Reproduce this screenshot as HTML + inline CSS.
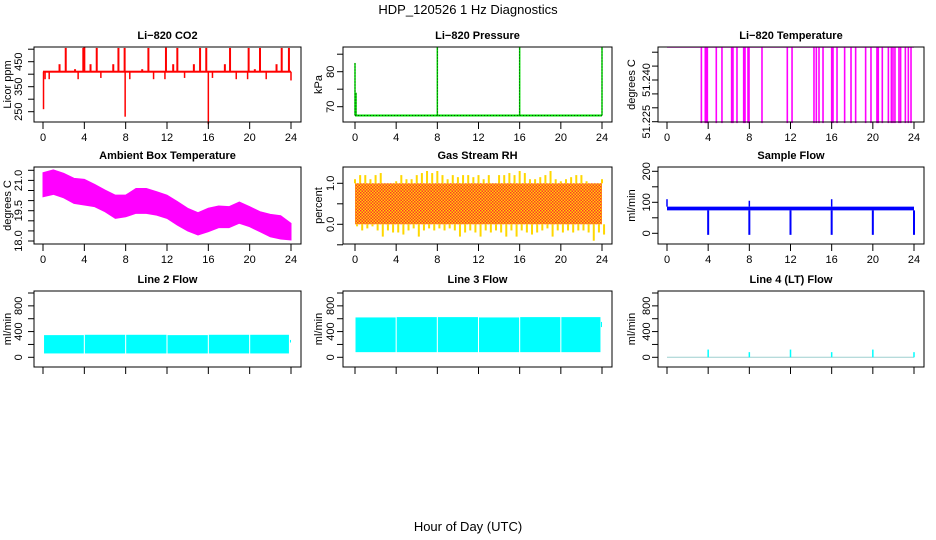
<!DOCTYPE html>
<html><head><meta charset="utf-8"><style>
html,body{margin:0;padding:0;background:#fff;}
svg{display:block;font-family:"Liberation Sans",Arial,sans-serif;}
</style></head><body>
<svg id="c" width="936" height="540" viewBox="0 0 936 540" xmlns="http://www.w3.org/2000/svg">
<defs>
<pattern id="rhpat" width="3" height="3" patternUnits="userSpaceOnUse">
<rect width="3" height="3" fill="#ffd700"/><rect x="0" y="0" width="1.5" height="1.5" fill="#ff3030"/><rect x="1.5" y="1.5" width="1.5" height="1.5" fill="#ff3030"/>
</pattern>
</defs>
<text x="468" y="14" text-anchor="middle" font-size="13">HDP_120526  1 Hz Diagnostics</text>
<text x="468" y="531" text-anchor="middle" font-size="13">Hour of Day (UTC)</text>
</svg>
<script>
// ---- data ----
const xTicks = [0,4,8,12,16,20,24];
const co2Base = 410;
const co2UpHours = [2.2,3.9,4.0,5.2,7.3,7.9,10.2,11.9,13.0,15.2,15.8,18.1,19.9,21.0,23.1,23.8];
const co2UpVals = [505,505,508,505,505,505,505,506,505,505,505,505,505,505,505,505];
const co2BumpHours = [1.6,3.1,4.6,6.8,9.6,12.6,14.6,17.6,20.5,22.6];
const co2BumpVals = [440,420,440,440,420,440,440,440,420,440];
const co2DownHours = [0.05,0.2,0.6,3.4,5.6,7.95,8.4,10.7,11.8,13.7,16.0,16.4,18.7,19.8,21.6,24];
const co2DownVals = [260,380,380,380,385,230,380,380,380,385,200,385,380,380,380,375];
const presBase = 67.5;
const presSpikeHours = [0,0.1,8,16,24];
const presSpikeVals = [82.5,74,87,87,87];
const tempTop = 51.2518;
const tempLow = 51.2245;
const tempDropHours = [3.34,3.72,3.82,3.92,4.79,5.34,6.28,6.41,6.8,7.45,7.58,7.87,7.97,9.23,11.69,12.15,14.28,14.51,14.77,15.16,16.0,16.13,16.52,17.26,17.88,18.33,19.3,19.82,20.4,20.53,20.92,21.51,21.8,21.96,22.15,22.54,22.7,23.16,23.45,23.71];
const ambHours = [0,1,2,3,4,5,6,7,8,9,10,11,12,13,14,15,16,17,18,19,20,21,22,23,24];
const ambUpper = [21.38,21.52,21.35,21.1,21.05,20.8,20.52,20.27,20.27,20.6,20.6,20.44,20.27,19.95,19.62,19.4,19.62,19.73,19.7,19.93,19.7,19.45,19.32,19.25,18.87];
const ambLower = [20.19,20.31,20.14,19.86,19.78,19.7,19.45,19.12,19.2,19.37,19.37,19.28,19.12,18.79,18.5,18.3,18.46,18.66,18.66,18.88,18.71,18.46,18.21,18.1,18.05];
const rhHours = [0,0.5,1,1.5,2,2.5,3,3.5,4,4.5,5,5.5,6,6.5,7,7.5,8,8.5,9,9.5,10,10.5,11,11.5,12,12.5,13,13.5,14,14.5,15,15.5,16,16.5,17,17.5,18,18.5,19,19.5,20,20.5,21,21.5,22,22.5,23,23.5,24];
const rhTop = [1.1,1.2,1.2,1.1,1.2,1.25,1.0,1.0,1.05,1.2,1.1,1.1,1.2,1.25,1.3,1.25,1.3,1.2,1.1,1.2,1.15,1.2,1.2,1.15,1.2,1.1,1.2,1.0,1.2,1.2,1.25,1.2,1.3,1.25,1.1,1.1,1.15,1.2,1.3,1.1,1.05,1.1,1.15,1.2,1.2,1.05,1.0,1.0,1.1];
const rhBottom = [-0.05,-0.15,-0.1,-0.05,-0.15,-0.3,-0.15,-0.2,-0.2,-0.25,-0.15,-0.1,-0.3,-0.15,-0.1,-0.15,-0.1,-0.15,-0.1,-0.15,-0.3,-0.2,-0.15,-0.2,-0.3,-0.15,-0.2,-0.15,-0.2,-0.3,-0.15,-0.3,-0.15,-0.2,-0.25,-0.2,-0.15,-0.1,-0.3,-0.15,-0.2,-0.15,-0.2,-0.15,-0.15,-0.2,-0.4,-0.2,-0.25];
const sfBaseLow = 74;
const sfBaseHigh = 86;
const sfDipHours = [4,8,12,16,20,24];
const sfDipVals = [-5,-5,-5,-5,-5,-5];
const sfSpikeHours = [0,8,16];
const sfSpikeVals = [110,105,110];
const l2SegStart = [0.1,4.05,8.05,12.05,16.05,20.05,23.9];
const l2SegEnd = [3.95,7.95,11.95,15.95,19.95,23.8,24];
const l2SegTop = [345,350,350,345,350,350,270];
const l2SegBottom = [60,60,60,60,60,60,230];
const l3SegStart = [0.05,4.05,8.05,12.05,16.05,20.05,23.9];
const l3SegEnd = [3.95,7.95,11.95,15.95,19.95,23.85,24];
const l3SegTop = [620,625,625,620,625,625,550];
const l3SegBottom = [80,80,80,80,80,80,470];
const l4SpikeHours = [4,8,12,16,20,24];
const l4SpikeVals = [120,80,120,80,120,80];

// ---- drawing ----
const svg = document.getElementById('c');
const NS = 'http://www.w3.org/2000/svg';
function mk(tag, attrs, parent){
  const e = document.createElementNS(NS, tag);
  for (const k in attrs) e.setAttribute(k, attrs[k]);
  (parent||svg).appendChild(e);
  return e;
}
const cols = [{bx0:34,bx1:301,h0:43,h24:291,lab:18,tit:7},{bx0:343,bx1:612,h0:355,h24:602,lab:330,tit:318},{bx0:658,bx1:924,h0:667,h24:914,lab:646,tit:631}];
const rows = [{by0:47,by1:122},{by0:167,by1:244},{by0:291,by1:367}];

function panel(name, title, c, r, ymap, ticks, labels, ytitle, showX){
  const g = mk('g', {});
  
  
  const col = cols[c], row = rows[r];
  const xs = h => col.h0 + (col.h24 - col.h0) * h / 24;
  const t = mk('text', {x:(col.bx0+col.bx1)/2, y:row.by0-8, 'text-anchor':'middle', 'font-size':11, 'font-weight':'bold'}, g);
  t.textContent = title;
  
  
  const plot = mk('g', {}, g);
  
  
  const box = mk('rect', {x:col.bx0, y:row.by0, width:col.bx1-col.bx0, height:row.by1-row.by0, fill:'none', stroke:'#000', 'stroke-width':1}, g);
  
  
  // x axis
  const xa = mk('g', {}, g);
  
  
  mk('line', {x1:xs(0), x2:xs(24), y1:row.by1, y2:row.by1, stroke:'#000'}, xa);
  xTicks.forEach(v => {
    mk('line', {x1:xs(v), x2:xs(v), y1:row.by1, y2:row.by1+7, stroke:'#000'}, xa);
    if (showX) {
      const l = mk('text', {x:xs(v), y:row.by1+19, 'text-anchor':'middle', 'font-size':11}, xa);
      l.textContent = v;
      
      
    }
  });
  // y axis
  const ya = mk('g', {}, g);
  
  
  ticks.forEach(v => {
    mk('line', {x1:col.bx0-6, x2:col.bx0, y1:ymap(v), y2:ymap(v), stroke:'#000'}, ya);
  });
  labels.forEach(v => {
    const y = ymap(parseFloat(v));
    const l = mk('text', {x:col.lab, y:y, 'text-anchor':'middle', 'font-size':11, transform:`rotate(-90 ${col.lab} ${y})`, dy:4}, ya);
    l.textContent = v;
    
    
  });
  const ym = (row.by0 + row.by1) / 2;
  const yt = mk('text', {x:col.tit, y:ym, 'text-anchor':'middle', 'font-size':11, transform:`rotate(-90 ${col.tit} ${ym})`, dy:4}, g);
  yt.textContent = ytitle;
  
  
  return {plot, xs, ymap};
}
function vline(p, h, v1, v2, color, w){
  return mk('line', {x1:p.xs(h), x2:p.xs(h), y1:p.ymap(v1), y2:p.ymap(v2), stroke:color, 'stroke-width':w||1.5}, p.plot);
}

// CO2
let p = panel('co2', 'Li\u2212820 CO2', 0, 0, v => 61.7 + (450 - v) * 0.25, [250,300,350,400,450,500], ['250','350','450'], 'Licor ppm', true);
mk('rect', {x:p.xs(0), y:p.ymap(co2Base+4), width:p.xs(24)-p.xs(0), height:p.ymap(co2Base-4)-p.ymap(co2Base+4), fill:'#ff0000'}, p.plot);
co2UpHours.forEach((h,i) => vline(p, h, co2Base, co2UpVals[i], '#ff0000', 2));
co2BumpHours.forEach((h,i) => vline(p, h, co2Base, co2BumpVals[i], '#ff0000', 2));
co2DownHours.forEach((h,i) => vline(p, h, co2Base, co2DownVals[i], '#ff0000', 1.5));

// Pressure
p = panel('pressure', 'Li\u2212820 Pressure', 1, 0, v => 71.7 + (80 - v) * 3.5, [70,75,80,85], ['70','80'], 'kPa', true);
mk('line', {x1:p.xs(0), x2:p.xs(24), y1:p.ymap(presBase), y2:p.ymap(presBase), stroke:'#00dd00', 'stroke-width':2}, p.plot);
mk('line', {x1:p.xs(0), x2:p.xs(24), y1:p.ymap(presBase), y2:p.ymap(presBase), stroke:'#000', 'stroke-width':0.7, 'stroke-dasharray':'1 2'}, p.plot);
presSpikeHours.forEach((h,i) => {
  vline(p, h, presBase, presSpikeVals[i], '#00dd00', 1.5);
  mk('line', {x1:p.xs(h), x2:p.xs(h), y1:p.ymap(presBase), y2:p.ymap(presSpikeVals[i]), stroke:'#000', 'stroke-width':0.7, 'stroke-dasharray':'1 2'}, p.plot);
});

// Li-820 temperature
p = panel('li820-temp', 'Li\u2212820 Temperature', 2, 0, v => 121.7 - (v - 51.225) * 2780, [51.225,51.230,51.235,51.240,51.245,51.250], ['51.225','51.240'], 'degrees C', true);
mk('line', {x1:p.xs(0), x2:p.xs(24), y1:p.ymap(tempTop), y2:p.ymap(tempTop), stroke:'#ff00ff', 'stroke-width':1.2}, p.plot);
tempDropHours.forEach(h => vline(p, h, tempTop, tempLow, '#ff00ff', 1.6));

// Ambient box temperature
p = panel('ambient-temp', 'Ambient Box Temperature', 0, 1, v => 241 - (v - 18) * 20.2, [18,18.5,19,19.5,20,20.5,21,21.5], ['18.0','19.5','21.0'], 'degrees C', true);
let pts = ambHours.map((h,i) => `${p.xs(h)},${p.ymap(ambUpper[i])}`).concat(ambHours.slice().reverse().map((h,j) => `${p.xs(h)},${p.ymap(ambLower[ambHours.length-1-j])}`));
mk('polygon', {points:pts.join(' '), fill:'#ff00ff', stroke:'#ff00ff', 'stroke-width':1}, p.plot);

// Gas stream RH
p = panel('gas-rh', 'Gas Stream RH', 1, 1, v => 224.3 - v * 41, [-0.5,0,0.5,1.0], ['0.0','1.0'], 'percent', true);
mk('rect', {x:p.xs(0), y:p.ymap(1.0), width:p.xs(24)-p.xs(0), height:p.ymap(0)-p.ymap(1.0), fill:'url(#rhpat)'}, p.plot);
rhHours.forEach((h,i) => {
  vline(p, h, 1.0, rhTop[i], '#ffd700', 2);
  vline(p, h + 0.2, 0, rhBottom[i], '#ffd700', 2);
});

// Sample flow
p = panel('sample-flow', 'Sample Flow', 2, 1, v => 233.3 - v * 0.31, [0,50,100,150,200], ['0','100','200'], 'ml/min', true);
mk('rect', {x:p.xs(0), y:p.ymap(sfBaseHigh), width:p.xs(24)-p.xs(0), height:p.ymap(sfBaseLow)-p.ymap(sfBaseHigh), fill:'#0000ff'}, p.plot);
sfDipHours.forEach((h,i) => vline(p, h, sfBaseLow, sfDipVals[i], '#0000ff', 2));
sfSpikeHours.forEach((h,i) => vline(p, h, sfBaseHigh, sfSpikeVals[i], '#0000ff', 1.5));

// Line flows
const fmap = v => 357.3 - v * 0.0643;
[['line2-flow','Line 2 Flow',0,l2SegStart,l2SegEnd,l2SegTop,l2SegBottom],['line3-flow','Line 3 Flow',1,l3SegStart,l3SegEnd,l3SegTop,l3SegBottom]].forEach(d => {
  const q = panel(d[0], d[1], d[2], 2, fmap, [0,200,400,600,800,1000], ['0','400','800'], 'ml/min', false);
  d[3].forEach((s,i) => {
    const r = mk('rect', {x:q.xs(s), y:q.ymap(d[5][i]), width:q.xs(d[4][i])-q.xs(s), height:q.ymap(d[6][i])-q.ymap(d[5][i]), fill:'#00ffff'}, q.plot);
    
    
  });
});
p = panel('line4-flow', 'Line 4 (LT) Flow', 2, 2, fmap, [0,200,400,600,800,1000], ['0','400','800'], 'ml/min', false);
mk('line', {x1:p.xs(0), x2:p.xs(24), y1:p.ymap(0), y2:p.ymap(0), stroke:'#9ecfcf', 'stroke-width':1}, p.plot);
l4SpikeHours.forEach((h,i) => vline(p, h, 0, l4SpikeVals[i], '#00ffff', 1.5));
</script>
</body></html>
